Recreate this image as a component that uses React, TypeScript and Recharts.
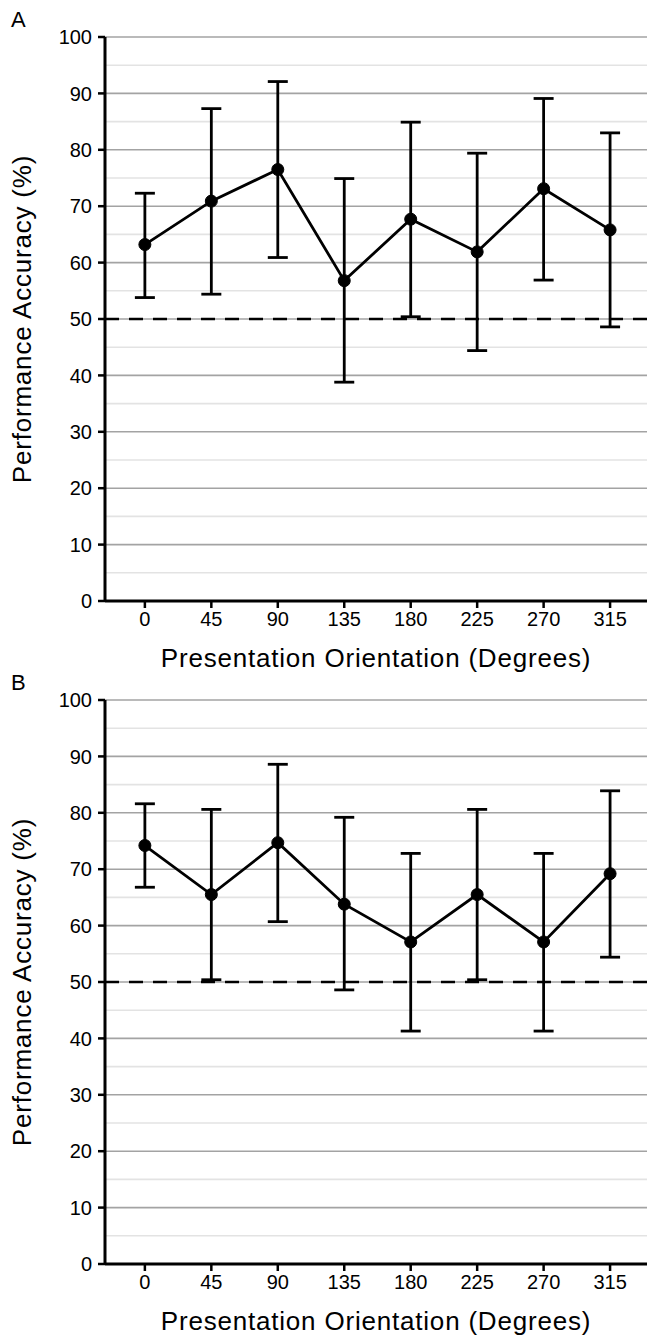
import React from "react";
import {
  ComposedChart,
  Line,
  ErrorBar,
  XAxis,
  YAxis,
  CartesianGrid,
  ReferenceLine,
  Label,
} from "recharts";

const DEGREES = [0, 45, 90, 135, 180, 225, 270, 315];

const A_MEAN = [63.2, 70.9, 76.5, 56.8, 67.7, 61.9, 73.1, 65.8];
const A_LOW = [53.8, 54.4, 60.9, 38.8, 50.4, 44.4, 56.9, 48.6];
const A_HIGH = [72.3, 87.3, 92.1, 74.9, 84.9, 79.4, 89.1, 83.0];

const B_MEAN = [74.2, 65.5, 74.7, 63.8, 57.1, 65.5, 57.1, 69.2];
const B_LOW = [66.8, 50.4, 60.7, 48.6, 41.3, 50.4, 41.3, 54.4];
const B_HIGH = [81.6, 80.6, 88.6, 79.2, 72.8, 80.6, 72.8, 83.9];

const Y_TICKS = [0, 10, 20, 30, 40, 50, 60, 70, 80, 90, 100];
const Y_MINOR = [5, 15, 25, 35, 45, 55, 65, 75, 85, 95];
const CHANCE = 50;

const FONT = "'Liberation Sans', Arial, Helvetica, sans-serif";
const W = 647;
const H = 680;

function XTitle(props: any) {
  const vb = props.viewBox || {};
  return (
    <text
      x={vb.x + vb.width / 2}
      y={vb.y + 66}
      textAnchor="middle"
      fontFamily={FONT}
      fontSize={26}
      style={{ letterSpacing: "0.8px" }}
      fill="#000"
    >
      Presentation Orientation (Degrees)
    </text>
  );
}

function YTitle(props: any) {
  const vb = props.viewBox || {};
  const x = vb.x + 31;
  const y = vb.y + vb.height / 2;
  return (
    <text
      x={x}
      y={y}
      transform={`rotate(-90, ${x}, ${y})`}
      textAnchor="middle"
      fontFamily={FONT}
      fontSize={26}
      style={{ letterSpacing: "0.8px" }}
      fill="#000"
    >
      Performance Accuracy (%)
    </text>
  );
}

function Panel({ letter, top, mean, low, high }: any) {
  const data = DEGREES.map((d, i) => ({
    deg: d,
    acc: mean[i],
    err: [mean[i] - low[i], high[i] - mean[i]],
  }));

  return (
    <div style={{ position: "absolute", left: 0, top, width: W, height: H }}>
      <div
        style={{
          position: "absolute",
          left: 11,
          top: 9,
          fontFamily: FONT,
          fontSize: 22,
          lineHeight: "22px",
        }}
      >
        {letter}
      </div>
      <ComposedChart
        width={W}
        height={H}
        data={data}
        margin={{ top: 37, right: 0, bottom: 9, left: 0 }}
      >
        <CartesianGrid
          vertical={false}
          horizontalValues={Y_MINOR}
          stroke="#e3e3e3"
          strokeWidth={1.6}
        />
        <CartesianGrid
          vertical={false}
          horizontalValues={Y_TICKS}
          stroke="#a3a3a3"
          strokeWidth={1.6}
        />
        <XAxis
          dataKey="deg"
          type="number"
          domain={[-27, 340]}
          ticks={DEGREES}
          allowDataOverflow
          height={70}
          interval={0}
          axisLine={{ stroke: "#000", strokeWidth: 3 }}
          tickLine={{ stroke: "#000", strokeWidth: 2.5 }}
          tickSize={7}
          tickMargin={4}
          tick={{ fill: "#000", fontSize: 20, fontFamily: FONT }}
        >
          <Label content={XTitle} />
        </XAxis>
        <YAxis
          type="number"
          domain={[0, 100]}
          ticks={Y_TICKS}
          allowDataOverflow
          width={105}
          interval={0}
          axisLine={{ stroke: "#000", strokeWidth: 3 }}
          tickLine={{ stroke: "#000", strokeWidth: 2.5 }}
          tickSize={7}
          tickMargin={6}
          tick={{ fill: "#000", fontSize: 20, fontFamily: FONT }}
        >
          <Label content={YTitle} />
        </YAxis>
        <ReferenceLine
          y={CHANCE}
          stroke="#000"
          strokeWidth={2.6}
          strokeDasharray="14 10"
        />
        <Line
          dataKey="acc"
          stroke="#000"
          strokeWidth={2.8}
          dot={{ r: 6, fill: "#000", stroke: "#000", strokeWidth: 1 }}
          activeDot={false}
          isAnimationActive={false}
        >
          <ErrorBar
            dataKey="err"
            direction="y"
            width={10}
            stroke="#000"
            strokeWidth={2.8}
            isAnimationActive={false}
          />
        </Line>
      </ComposedChart>
    </div>
  );
}

export default function App() {
  return (
    <div
      style={{
        position: "absolute",
        left: 0,
        top: 0,
        width: W,
        height: 1337,
        overflow: "hidden",
        background: "#fff",
      }}
    >
      <Panel letter="A" top={0} mean={A_MEAN} low={A_LOW} high={A_HIGH} />
      <Panel letter="B" top={663} mean={B_MEAN} low={B_LOW} high={B_HIGH} />
    </div>
  );
}
